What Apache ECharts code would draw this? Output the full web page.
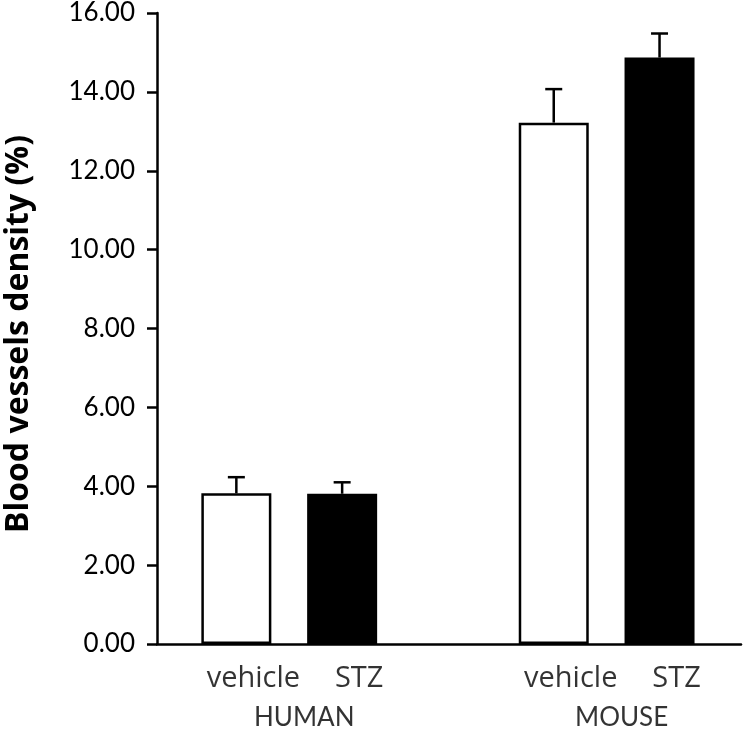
<!DOCTYPE html>
<html>
<head>
<meta charset="utf-8">
<script src="https://cdn.jsdelivr.net/npm/echarts@6/dist/echarts.min.js"></script>
<style>html,body{margin:0;padding:0;background:#fff}#c{width:744px;height:733px}</style>
</head>
<body>
<div id="c"></div>
<script>
// Data
var groups = ['HUMAN', 'MOUSE'];
var treatments = ['vehicle', 'STZ', 'vehicle', 'STZ'];
var barGroup = ['HUMAN', 'HUMAN', 'MOUSE', 'MOUSE'];
var barPos = [1, 2, 4, 5];
var means = [3.82, 3.81, 13.22, 14.87];
var errors = [0.41, 0.29, 0.85, 0.61];
var groupPos = [1.5, 4.5];
var yTicks = [0, 2, 4, 6, 8, 10, 12, 14, 16];

var fills = ['#ffffff', '#000000', '#ffffff', '#000000'];
var FONT = 'Lato';
var FONT2 = 'Open Sans';

var chart = echarts.init(document.getElementById('c'), null, {renderer: 'canvas'});
var option = {
  animation: false,
  backgroundColor: '#fff',
  grid: {left: 157, right: 3, top: 13, bottom: 89, containLabel: false, outerBoundsMode: 'none'},
  xAxis: {
    type: 'value', min: 0.25, max: 5.77,
    axisLine: {show: true, onZero: false, lineStyle: {color: '#000', width: 2.5}},
    axisTick: {show: false}, axisLabel: {show: false}, splitLine: {show: false}
  },
  yAxis: {
    type: 'value', min: yTicks[0], max: yTicks[yTicks.length - 1], interval: 2,
    name: 'Blood vessels density (%)', nameLocation: 'middle', nameGap: 122,
    nameTextStyle: {fontFamily: FONT2, fontWeight: 'bold', fontSize: 32, color: '#000', padding: [0, 11, 0, 0]},
    axisLine: {show: true, lineStyle: {color: '#000', width: 2.5}},
    axisTick: {show: true, inside: false, length: 10, lineStyle: {color: '#000', width: 2.5}},
    axisLabel: {fontFamily: FONT, fontSize: 26, color: '#000', margin: 22,
      formatter: function (v) { return v.toFixed(2); }},
    splitLine: {show: false}
  },
  series: [
    {
      type: 'bar', barWidth: 70, z: 2,
      data: barPos.map(function (p, i) {
        return {value: [p, means[i]], itemStyle: {color: fills[i], borderColor: '#000', borderWidth: 2.5}};
      })
    },
    {
      type: 'custom', z: 3,
      renderItem: function (params, api) {
        var x = api.value(0), m = api.value(1), e = api.value(2);
        var p0 = api.coord([x, m]);
        var p1 = api.coord([x, m + e]);
        var half = 8.5;
        return {
          type: 'group',
          children: [
            {type: 'line', shape: {x1: p0[0], y1: p0[1], x2: p1[0], y2: p1[1]}, style: {stroke: '#000', lineWidth: 2.5}},
            {type: 'line', shape: {x1: p1[0] - half, y1: p1[1], x2: p1[0] + half, y2: p1[1]}, style: {stroke: '#000', lineWidth: 2.5}}
          ]
        };
      },
      data: barPos.map(function (p, i) { return [p, means[i], errors[i]]; })
    },
    {
      type: 'scatter', symbolSize: 0, silent: true,
      label: {show: true, position: 'bottom', distance: 0, offset: [17, 20],
        fontFamily: FONT2, fontSize: 29, color: '#000',
        formatter: function (p) { return p.data.name; }},
      data: barPos.map(function (p, i) { return {name: treatments[i], value: [p, 0]}; })
    },
    {
      type: 'scatter', symbolSize: 0, silent: true,
      label: {show: true, position: 'bottom', distance: 0, offset: [15, 61],
        fontFamily: FONT, fontSize: 26, color: '#000',
        formatter: function (p) { return p.data.name; }},
      data: groupPos.map(function (p, i) { return {name: groups[i], value: [p, 0]}; })
    }
  ]
};
chart.setOption(option);
</script>
</body>
</html>
